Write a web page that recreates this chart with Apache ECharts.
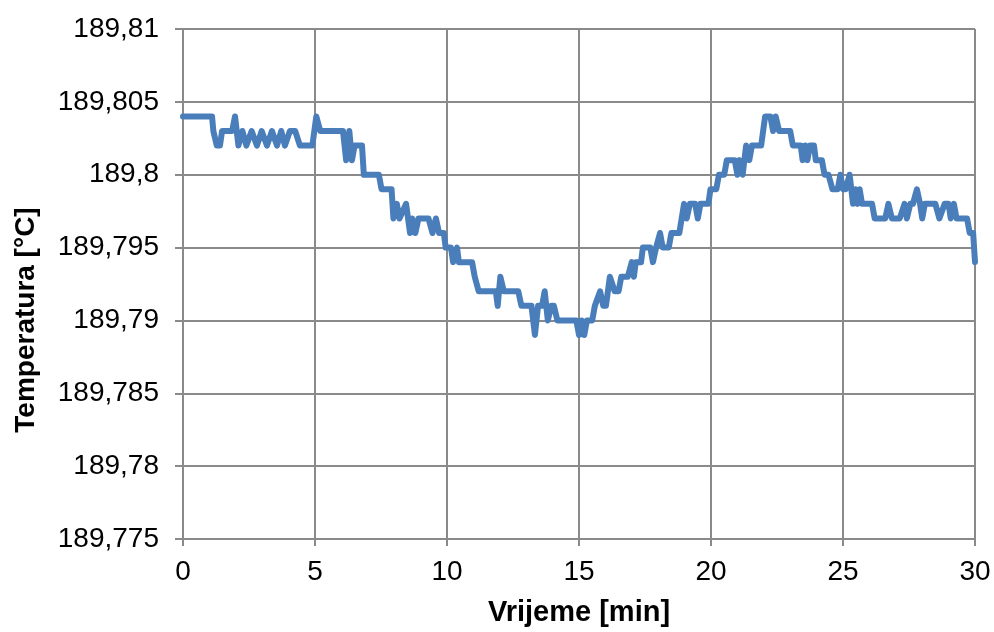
<!DOCTYPE html>
<html>
<head>
<meta charset="utf-8">
<script src="https://cdn.jsdelivr.net/npm/echarts@6/dist/echarts.min.js"></script>
<style>
html,body{margin:0;padding:0;background:#fff;}
#chart{width:994px;height:632px;}
</style>
</head>
<body>
<div id="chart"></div>
<script>
// Time [min]
const times = [
  0, 1.1, 1.15, 1.28, 1.4, 1.48, 1.86, 1.97, 2.1, 2.25,
  2.4, 2.6, 2.8, 2.98, 3.18, 3.37, 3.56, 3.72, 3.86, 4.05,
  4.25, 4.43, 4.9, 5.05, 5.2, 6.06, 6.18, 6.3, 6.4, 6.5,
  6.78, 6.85, 7.42, 7.52, 7.9, 7.97, 8.1, 8.2, 8.45, 8.6,
  8.68, 8.8, 8.92, 9.3, 9.45, 9.58, 9.7, 9.88, 9.95, 10.15,
  10.23, 10.38, 10.45, 10.95, 11.05, 11.2, 11.85, 11.92, 12.02, 12.15,
  12.7, 12.82, 13.2, 13.33, 13.45, 13.6, 13.7, 13.82, 13.95, 14.05,
  14.18, 14.9, 15.0, 15.1, 15.2, 15.3, 15.5, 15.6, 15.8, 15.92,
  16.02, 16.17, 16.35, 16.5, 16.6, 16.85, 17.0, 17.08, 17.15, 17.35,
  17.42, 17.7, 17.8, 17.92, 18.07, 18.17, 18.4, 18.5, 18.8, 18.98,
  19.08, 19.2, 19.4, 19.5, 19.6, 19.9, 19.98, 20.2, 20.3, 20.5,
  20.6, 20.9, 21.0, 21.08, 21.2, 21.33, 21.45, 21.55, 21.9, 22.05,
  22.25, 22.35, 22.45, 22.58, 23.0, 23.1, 23.4, 23.47, 23.57, 23.65,
  23.75, 23.9, 23.97, 24.2, 24.3, 24.45, 24.6, 24.8, 24.9, 25.0,
  25.1, 25.25, 25.38, 25.47, 25.55, 25.63, 25.72, 26.1, 26.2, 26.6,
  26.72, 26.85, 27.15, 27.33, 27.42, 27.55, 27.65, 27.8, 27.92, 28.0,
  28.1, 28.5, 28.65, 28.85, 29.0, 29.08, 29.2, 29.3, 29.7, 29.8,
  29.93, 30.0
];
// Temperature [°C]
const temps = [
  189.804, 189.804, 189.803, 189.802, 189.802, 189.803, 189.803, 189.804, 189.802, 189.803,
  189.802, 189.803, 189.802, 189.803, 189.802, 189.803, 189.802, 189.803, 189.802, 189.803,
  189.803, 189.802, 189.802, 189.804, 189.803, 189.803, 189.801, 189.803, 189.801, 189.802,
  189.802, 189.800, 189.800, 189.799, 189.799, 189.797, 189.798, 189.797, 189.798, 189.796,
  189.797, 189.796, 189.797, 189.797, 189.796, 189.797, 189.796, 189.796, 189.795, 189.795,
  189.794, 189.795, 189.794, 189.794, 189.793, 189.792, 189.792, 189.791, 189.793, 189.792,
  189.792, 189.791, 189.791, 189.789, 189.791, 189.791, 189.792, 189.790, 189.791, 189.791,
  189.790, 189.790, 189.789, 189.790, 189.789, 189.790, 189.790, 189.791, 189.792, 189.791,
  189.791, 189.793, 189.792, 189.792, 189.793, 189.793, 189.794, 189.793, 189.794, 189.794,
  189.795, 189.795, 189.794, 189.795, 189.796, 189.795, 189.795, 189.796, 189.796, 189.798,
  189.797, 189.798, 189.798, 189.797, 189.798, 189.798, 189.799, 189.799, 189.800, 189.800,
  189.801, 189.801, 189.800, 189.801, 189.800, 189.802, 189.801, 189.802, 189.802, 189.804,
  189.804, 189.803, 189.804, 189.803, 189.803, 189.802, 189.802, 189.801, 189.802, 189.801,
  189.802, 189.802, 189.801, 189.801, 189.800, 189.800, 189.799, 189.799, 189.800, 189.799,
  189.799, 189.800, 189.798, 189.799, 189.798, 189.799, 189.798, 189.798, 189.797, 189.797,
  189.798, 189.797, 189.797, 189.798, 189.797, 189.798, 189.798, 189.799, 189.798, 189.797,
  189.798, 189.798, 189.797, 189.798, 189.798, 189.797, 189.798, 189.797, 189.797, 189.796,
  189.796, 189.794
];
const xTitle = 'Vrijeme [min]';
const yTitle = 'Temperatura [°C]';

const data = times.map((t, i) => [t, temps[i]]);
const gridColor = '#8a8a8a';
const font = "'Liberation Sans', Arial, sans-serif";

const chart = echarts.init(document.getElementById('chart'), null, {renderer: 'canvas'});
chart.setOption({
  animation: false,
  backgroundColor: '#ffffff',
  grid: {left: 183, right: 19, top: 29, bottom: 91, containLabel: false},
  xAxis: {
    type: 'value', min: 0, max: 30, interval: 5,
    name: xTitle, nameLocation: 'middle', nameGap: 59,
    nameTextStyle: {fontFamily: font, fontSize: 29, fontWeight: 'bold', color: '#000'},
    axisLine: {show: true, lineStyle: {color: gridColor, width: 2}},
    axisTick: {show: true, length: 7, lineStyle: {color: gridColor, width: 2}},
    axisLabel: {fontFamily: font, fontSize: 28, color: '#000', margin: 19},
    splitLine: {show: true, lineStyle: {color: gridColor, width: 2}}
  },
  yAxis: {
    type: 'value', min: 189.775, max: 189.81, interval: 0.005,
    name: yTitle, nameLocation: 'middle', nameGap: 143, nameRotate: 90,
    nameTextStyle: {fontFamily: font, fontSize: 28, fontWeight: 'bold', color: '#000', padding: [0, 72, 0, 0]},
    axisLine: {show: true, lineStyle: {color: gridColor, width: 2}},
    axisTick: {show: true, length: 8, lineStyle: {color: gridColor, width: 2}},
    axisLabel: {
      fontFamily: font, fontSize: 28, color: '#000', margin: 24,
      formatter: v => String(Math.round(v * 1000) / 1000).replace('.', ',')
    },
    splitLine: {show: true, lineStyle: {color: gridColor, width: 2}}
  },
  series: [{
    type: 'line', data: data, showSymbol: false, symbol: 'none',
    lineStyle: {color: '#4a7ebb', width: 6, cap: 'round', join: 'round'},
    clip: false
  }]
});
</script>
</body>
</html>
